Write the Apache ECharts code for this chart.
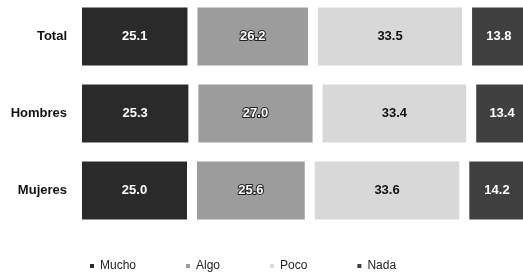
<!DOCTYPE html>
<html>
<head>
<meta charset="utf-8">
<script src="https://cdn.jsdelivr.net/npm/echarts@6/dist/echarts.min.js"></script>
<style>
  html, body { margin: 0; padding: 0; background: #fff; }
  #chart { width: 523px; height: 275px; }
</style>
</head>
<body>
<div id="chart"></div>
<script>
const categories = ['Total', 'Hombres', 'Mujeres']
const seriesNames = ['Mucho', 'Algo', 'Poco', 'Nada']
const mucho = [25.1, 25.3, 25.0]
const algo = [26.2, 27.0, 25.6]
const poco = [33.5, 33.4, 33.6]
const nada = [13.8, 13.4, 14.2]

const FONT = "'Liberation Sans', Arial, sans-serif"

// fill colour, label colour, label outline
const styles = [
  { color: '#2a2a2a', text: '#fff', border: 0 },
  { color: '#9c9c9c', text: '#fff', border: 2 },
  { color: '#d8d8d8', text: '#111', border: 0 },
  { color: '#404040', text: '#fff', border: 0 }
]

const chart = echarts.init(document.getElementById('chart'))

function makeSeries(name, data, i) {
  const s = styles[i]
  return {
    name: name,
    type: 'bar',
    stack: 'total',
    barWidth: 68,
    data: data,
    itemStyle: {
      color: s.color,
      borderColor: '#fff',
      borderWidth: 5
    },
    label: {
      show: true,
      position: 'inside',
      color: s.text,
      fontFamily: FONT,
      fontWeight: 'bold',
      fontSize: 13,
      textBorderColor: '#222',
      textBorderWidth: s.border,
      formatter: p => p.value.toFixed(1)
    }
  }
}

chart.setOption({
  backgroundColor: '#fff',
  animation: false,
  grid: {
    left: 77,
    right: -14,
    top: -2,
    height: 231,
    containLabel: false,
    outerBoundsMode: 'none'
  },
  xAxis: {
    type: 'value',
    min: 0,
    max: 100,
    show: false
  },
  yAxis: {
    type: 'category',
    data: categories,
    inverse: true,
    axisLine: { show: false },
    axisTick: { show: false },
    axisLabel: {
      margin: 10,
      color: '#111',
      fontFamily: FONT,
      fontWeight: 'bold',
      fontSize: 13
    }
  },
  legend: {
    left: 83,
    top: 255,
    itemWidth: 6,
    itemHeight: 6,
    itemGap: 48,
    icon: 'rect',
    textStyle: {
      color: '#222',
      fontFamily: FONT,
      fontSize: 12
    },
    data: seriesNames
  },
  series: [
    makeSeries(seriesNames[0], mucho, 0),
    makeSeries(seriesNames[1], algo, 1),
    makeSeries(seriesNames[2], poco, 2),
    makeSeries(seriesNames[3], nada, 3)
  ]
})
</script>
</body>
</html>
